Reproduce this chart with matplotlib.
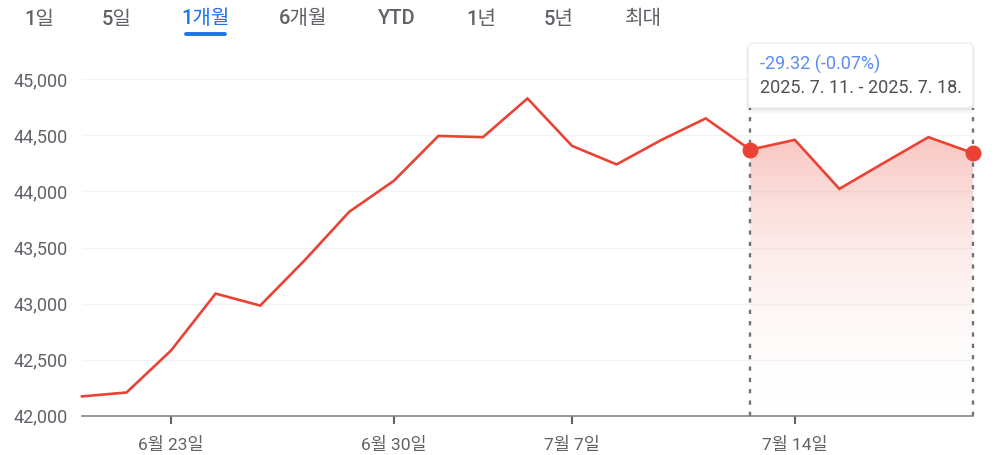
import numpy as np
import matplotlib
matplotlib.use("Agg")
import matplotlib.pyplot as plt
from matplotlib.patches import FancyBboxPatch, Polygon
from matplotlib.lines import Line2D
from matplotlib.transforms import Affine2D
from matplotlib.colors import LinearSegmentedColormap

plt.rcParams['font.family'] = ['Roboto', 'Noto Sans CJK KR', 'DejaVu Sans']

# data (one point per trading session)
dates = ['6/18', '6/20', '6/23', '6/24', '6/25', '6/26', '6/27', '6/30', '7/1', '7/2', '7/3',
         '7/7', '7/8', '7/9', '7/10', '7/11', '7/14', '7/15', '7/16', '7/17', '7/18']
values = [42172, 42207, 42582, 43089, 42982, 43387, 43819, 44095, 44495, 44484, 44829,
          44406, 44241, 44458, 44651, 44372, 44460, 44023, 44255, 44484, 44342]
tick_idx = [2, 7, 11, 16]
tick_labels = ['6월 23일', '6월 30일', '7월 7일', '7월 14일']
y_ticks = [42000, 42500, 43000, 43500, 44000, 44500, 45000]
tabs = ['1일', '5일', '1개월', '6개월', 'YTD', '1년', '5년', '최대']
active_tab = '1개월'
sel_start, sel_end = 15, 20
tip_change = '-29.32 (-0.07%)'
tip_range = '2025. 7. 11. - 2025. 7. 18.'

RED = '#ea4335'
GRAY = '#5f6368'
BLUE = '#1a73e8'

W, H = 994, 455
fig = plt.figure(figsize=(W / 100, H / 100), dpi=100)
# pixel coords, origin top-left
PX = Affine2D().scale(1 / 100, -1 / 100).translate(0, H / 100) + fig.dpi_scale_trans

ax = fig.add_axes([82 / W, (H - 415.7) / H, 891 / W, 336.4 / H])
x = np.arange(len(values))

# gradient under the selected range
seg_x = x[sel_start:sel_end + 1]
seg_v = values[sel_start:sel_end + 1]
cmap = LinearSegmentedColormap.from_list('g', [(1, 1, 1, 0), (234 / 255, 67 / 255, 53 / 255, 0.30)])
grad = np.linspace(0, 1, 256).reshape(-1, 1)
im = ax.imshow(grad, extent=(sel_start, sel_end, y_ticks[0], max(seg_v)), origin='lower',
               cmap=cmap, aspect='auto', zorder=1, interpolation='bilinear')
verts = [(sel_start, y_ticks[0])] + list(zip(seg_x, seg_v)) + [(sel_end, y_ticks[0])]
clip = Polygon(verts, closed=True, facecolor='none', edgecolor='none')
ax.add_patch(clip)
im.set_clip_path(clip)

ax.plot(x, values, color=RED, lw=1.9, solid_joinstyle='miter', zorder=3, clip_on=False)
ax.plot([sel_start, sel_end], [values[sel_start], values[sel_end]], 'o', ms=10.5,
        color=RED, zorder=5, clip_on=False)

for xi in (sel_start, sel_end):
    ax.axvline(xi, ymin=0, ymax=(415.7 - 108) / 336.4, color='#6f7378', lw=1.7,
               ls=(0, (1.8, 3)), zorder=2, clip_on=False)

ax.set_xlim(0, len(values) - 1)
ax.set_ylim(y_ticks[0], y_ticks[-1])
ax.set_yticks(y_ticks, [f'{v:,}' for v in y_ticks])
ax.set_xticks(tick_idx, tick_labels)
ax.yaxis.grid(True, color='#f1f3f4', lw=1)
ax.set_axisbelow(True)
for s in ('top', 'right', 'left'):
    ax.spines[s].set_visible(False)
ax.spines['bottom'].set_color('#80868b')
ax.spines['bottom'].set_linewidth(1.2)
ax.tick_params(axis='y', length=0, pad=10, labelsize=13, labelcolor=GRAY)
ax.tick_params(axis='x', length=6, width=1.5, color=GRAY, pad=9, labelsize=12.5, labelcolor=GRAY)

# tooltip
for i, a in enumerate([0.05, 0.04, 0.03]):
    sh = FancyBboxPatch((748 - i, 43 + 1 + i), 225 + 2 * i, 65 + i,
                        boxstyle='round,pad=0,rounding_size=5', transform=PX,
                        facecolor='black', edgecolor='none', alpha=a, zorder=8)
    fig.add_artist(sh)
box = FancyBboxPatch((748, 43), 225, 65, boxstyle='round,pad=0,rounding_size=5',
                     transform=PX, facecolor='white', edgecolor='#e3e3e3', lw=0.6, zorder=9)
fig.add_artist(box)
fig.text(760, 64, tip_change, transform=PX, color='#5b8ef0', fontsize=13,
         va='center', ha='left', zorder=10)
fig.text(760, 88, tip_range, transform=PX, color='#4d5156', fontsize=13,
         va='center', ha='left', zorder=10)

# range tabs
tab_x = [39, 117, 206, 303, 397, 481, 559, 643]
for t, tx in zip(tabs, tab_x):
    fig.text(tx, 19, t, transform=PX, ha='center', va='center', fontsize=14.5,
             fontweight='medium', color=BLUE if t == active_tab else GRAY)
fig.add_artist(Line2D([186, 225], [34, 34], transform=PX, color=BLUE, lw=2.8,
                      solid_capstyle='round'))

fig.savefig('out.png', dpi=100)
